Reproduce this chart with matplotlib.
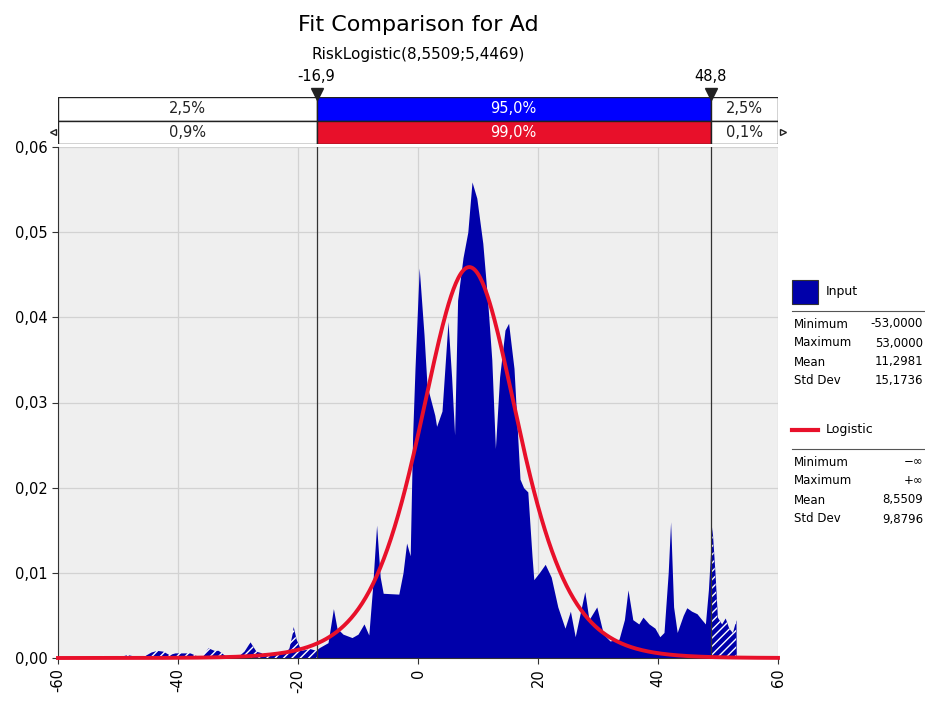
import numpy as np
import matplotlib.pyplot as plt
from matplotlib.patches import Rectangle
from matplotlib.lines import Line2D

# histogram outline of the "Ad" input (x, density)
hist_x = [-53.0, -52.5, -51.0, -49.0, -48.5, -47.0, -46.0, -44.5, -43.5, -42.5,
          -41.5, -40.5, -39.0, -38.0, -37.0, -36.0, -35.0, -34.0, -33.3, -32.0,
          -31.0, -30.0, -29.0, -28.0, -27.0, -26.0, -24.0, -22.0, -21.5, -21.0,
          -20.8, -20.3, -19.5, -18.0, -17.0, -16.5, -15.0, -14.5, -14.1, -13.5,
          -12.5, -11.0, -10.0, -9.0, -8.2, -7.6, -6.9, -6.3, -5.8, -3.2,
          -2.5, -1.9, -1.3, -0.9, -0.5, 0.2, 1.0, 1.5, 2.8, 3.1, 4.0,
          5.0, 5.6, 6.1, 6.6, 7.5, 8.3, 9.0, 9.8, 10.8, 11.6,
          12.3, 12.9, 13.6, 14.5, 15.1, 16.0, 17.0, 17.6, 18.3, 19.0,
          19.3, 20.2, 21.2, 22.2, 23.3, 24.5, 25.4, 26.2, 27.8, 28.5,
          29.8, 30.9, 32.0, 33.5, 34.4, 35.0, 35.8, 36.8, 37.5, 38.5,
          39.5, 40.3, 41.0, 41.7, 42.1, 42.6, 43.2, 44.2, 44.8, 45.6,
          46.5, 47.3, 47.9, 48.4, 49.0, 49.5, 49.9, 50.6, 51.2, 51.8,
          52.4, 53.0, 53.05]
hist_y = [0.0, 0.0003, 0.0002, 0.0003, 0.0004, 0.0002, 0.0001, 0.0007, 0.0009, 0.0008,
          0.0004, 0.0006, 0.0006, 0.0006, 0.0003, 0.0002, 0.0012, 0.0009, 0.0009, 0.0002,
          0.0004, 0.0002, 0.0008, 0.0019, 0.0008, 0.0006, 0.0005, 0.0007, 0.0012, 0.0028,
          0.0037, 0.0022, 0.0009, 0.0011, 0.0009, 0.0012, 0.0018, 0.0040, 0.0058, 0.0035,
          0.0028, 0.0024, 0.0028, 0.0040, 0.0027, 0.0080, 0.0156, 0.0095, 0.0076, 0.0075,
          0.0100, 0.0135, 0.0120, 0.0260, 0.0340, 0.0458, 0.0380, 0.0320, 0.0285, 0.0272, 0.0290,
          0.0395, 0.0330, 0.0262, 0.0420, 0.0470, 0.0500, 0.0559, 0.0540, 0.0487, 0.0420,
          0.0350, 0.0246, 0.0330, 0.0385, 0.0393, 0.0340, 0.0210, 0.0200, 0.0195, 0.0120,
          0.0092, 0.0100, 0.0110, 0.0095, 0.0060, 0.0035, 0.0055, 0.0025, 0.0078, 0.0045,
          0.0060, 0.0028, 0.0020, 0.0022, 0.0045, 0.0080, 0.0045, 0.0040, 0.0048, 0.0040,
          0.0035, 0.0025, 0.0030, 0.0100, 0.0160, 0.0060, 0.0030, 0.0050, 0.0059, 0.0055,
          0.0052, 0.0045, 0.0040, 0.0080, 0.0154, 0.0100, 0.0048, 0.0040, 0.0047, 0.0035,
          0.0030, 0.0045, 0.0]

# fitted distribution, parameters as printed in the subtitle
mu, s = 8.5509, 5.4469
lo_cut, hi_cut = -16.9, 48.8
top_row = ['2,5%', '95,0%', '2,5%']
bot_row = ['0,9%', '99,0%', '0,1%']
input_stats = [('Minimum', '-53,0000'), ('Maximum', '53,0000'),
               ('Mean', '11,2981'), ('Std Dev', '15,1736')]
fit_stats = [('Minimum', '\u2212\u221e'), ('Maximum', '+\u221e'),
             ('Mean', '8,5509'), ('Std Dev', '9,8796')]

blue = '#0000aa'
red = '#e8102a'
W, H = 925, 702

fig = plt.figure(figsize=(W / 100, H / 100), dpi=100)

def fx(px):
    return px / W

def fy(py):
    return 1 - py / H

ax = fig.add_axes([fx(58), fy(658), fx(778) - fx(58), fy(147) - fy(658)])
ax.set_facecolor('#efefef')
ax.set_xlim(-60, 60)
ax.set_ylim(0, 0.06)
ax.grid(True, color='#d2d2d2', lw=0.9)
ax.set_axisbelow(True)
for side in ['top', 'right']:
    ax.spines[side].set_visible(False)
ax.spines['left'].set_color('#333333')
ax.spines['bottom'].set_color('#333333')

hx = np.array(hist_x)
hy = np.array(hist_y)
ax.fill_between(hx, 0, hy, color=blue, lw=0, zorder=2)

# hatched tails outside the delimiters
for x0, x1 in [(-60, lo_cut), (hi_cut, 60)]:
    hatch = ax.fill_between(hx, 0, hy, facecolor='none', edgecolor='white',
                            hatch='////', lw=0, zorder=3)
    clip = Rectangle((x0, 0), x1 - x0, 0.06, transform=ax.transData)
    hatch.set_clip_path(clip)

xc = np.linspace(-60, 60, 600)
z = np.exp(-(xc - mu) / s)
pdf = z / (s * (1 + z) ** 2)
ax.plot(xc, pdf, color=red, lw=2.8, zorder=5, clip_on=False)

for c in [lo_cut, hi_cut]:
    ax.axvline(c, color='#333333', lw=0.9, zorder=4)

ax.set_xticks(range(-60, 61, 20))
ax.set_xticklabels([str(v) for v in range(-60, 61, 20)], rotation=90, fontsize=10.5)
ax.set_yticks([0, 0.01, 0.02, 0.03, 0.04, 0.05, 0.06])
ax.set_yticklabels([f'{v:.2f}'.replace('.', ',') for v in ax.get_yticks()], fontsize=10.5)
ax.tick_params(length=4, color='#333333')

# delimiter band above the plot
band = fig.add_axes([fx(58), fy(144), fx(778) - fx(58), fy(97) - fy(144)])
band.set_xlim(-60, 60)
band.set_ylim(0, 2)
band.axis('off')
edges = [-60, lo_cut, hi_cut, 60]
for row, labels, mid in [(1, top_row, '#0000ff'), (0, bot_row, red)]:
    for i in range(3):
        fc = mid if i == 1 else 'white'
        band.add_patch(Rectangle((edges[i], row), edges[i + 1] - edges[i], 1,
                                 facecolor=fc, edgecolor='#222222', lw=1.0))
        band.text((edges[i] + edges[i + 1]) / 2, row + 0.5, labels[i],
                  ha='center', va='center', fontsize=10.5,
                  color='white' if i == 1 else '#222222')
band.plot([lo_cut, hi_cut], [2.12, 2.12], 'v', color='#222222', ms=9, clip_on=False)
band.plot([-60.8], [0.5], '<', mfc='white', mec='#222222', ms=5, clip_on=False)
band.plot([60.8], [0.5], '>', mfc='white', mec='#222222', ms=5, clip_on=False)
for c in [lo_cut, hi_cut]:
    band.text(c, 2.55, f'{c:.1f}'.replace('.', ','), ha='center', va='bottom', fontsize=10.5)

fig.text(fx(418), fy(25), 'Fit Comparison for Ad', ha='center', va='center', fontsize=16)
fig.text(fx(418), fy(55), 'RiskLogistic(8,5509;5,4469)', ha='center', va='center', fontsize=11)

# legend / statistics panel on the right
fig.add_artist(Rectangle((fx(792), fy(304)), fx(26), fy(280) - fy(304),
                         facecolor=blue, edgecolor='#333333', lw=0.8))
fig.text(fx(826), fy(291), 'Input', va='center', fontsize=9)
fig.add_artist(Line2D([fx(792), 1], [fy(311), fy(311)], color='#555555', lw=0.8))
for k, (name, val) in enumerate(input_stats):
    yy = fy(324 + 19 * k)
    fig.text(fx(794), yy, name, va='center', fontsize=8.5)
    fig.text(fx(923), yy, val, va='center', ha='right', fontsize=8.5)

fig.add_artist(Line2D([fx(792), fx(818)], [fy(430), fy(430)], color=red, lw=3))
fig.text(fx(826), fy(429), 'Logistic', va='center', fontsize=9)
fig.add_artist(Line2D([fx(792), 1], [fy(449), fy(449)], color='#555555', lw=0.8))
for k, (name, val) in enumerate(fit_stats):
    yy = fy(462 + 19 * k)
    fig.text(fx(794), yy, name, va='center', fontsize=8.5)
    fig.text(fx(923), yy, val, va='center', ha='right', fontsize=8.5)

fig.savefig('out.png', dpi=100)
